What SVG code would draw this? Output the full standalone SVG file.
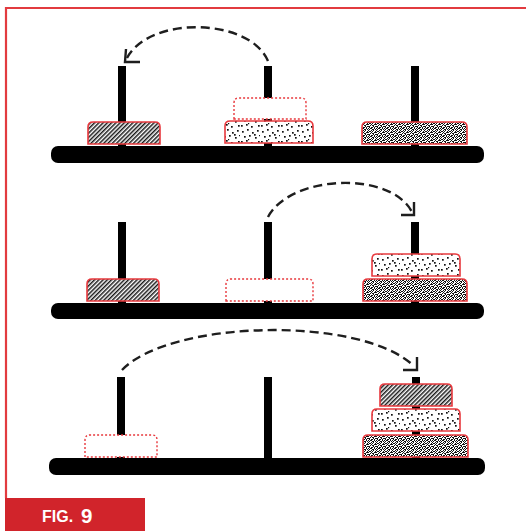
<svg xmlns="http://www.w3.org/2000/svg" width="526" height="531" viewBox="0 0 526 531">
<style>
.base{fill:#000}
.peg{fill:#000}
.disc{stroke:#e8383d;stroke-width:1.6}
.ghost{fill:#fff;stroke:#e8383d;stroke-width:1.4;stroke-dasharray:2 2}
.arc{fill:none;stroke:#1e1e1e;stroke-width:2.4;stroke-dasharray:9 5}
.head{fill:none;stroke:#1e1e1e;stroke-width:2.4}
.frame{fill:none;stroke:#e23b3f;stroke-width:2.2}
.figtext{font-family:"Liberation Sans",Arial,sans-serif;font-weight:bold;fill:#fff}
</style>
<defs>
<pattern id="hatch" width="3" height="3" patternUnits="userSpaceOnUse" patternTransform="rotate(45)">
<rect width="3" height="3" fill="#fff"/>
<line x1="0.75" y1="0" x2="0.75" y2="3" stroke="#1a1a1a" stroke-width="1.5"/>
</pattern>
<pattern id="dots" width="20" height="16" patternUnits="userSpaceOnUse">
<rect width="20" height="16" fill="#fff"/>
<g fill="#111">
<rect x="2" y="3" width="1.7" height="1.7"/><rect x="7" y="1" width="1.7" height="1.7"/>
<rect x="12" y="4" width="1.7" height="1.7"/><rect x="17" y="2" width="1.7" height="1.7"/>
<rect x="4" y="8" width="1.7" height="1.7"/><rect x="9" y="7" width="1.7" height="1.7"/>
<rect x="15" y="9" width="1.7" height="1.7"/><rect x="1" y="13" width="1.7" height="1.7"/>
<rect x="6" y="12" width="1.7" height="1.7"/><rect x="11" y="14" width="1.7" height="1.7"/>
<rect x="18" y="13" width="1.7" height="1.7"/><rect x="14" y="6" width="1.7" height="1.7"/>
<rect x="19" y="7" width="1.2" height="1.2"/><rect x="8" y="11" width="1.2" height="1.2"/>
</g>
</pattern>
<pattern id="dense" width="8" height="8" patternUnits="userSpaceOnUse">
<rect width="8" height="8" fill="#fff"/>
<path fill="#111" d="M0 0h1v1h-1z M2 0h2v1h-2z M6 0h1v1h-1z M1 1h1v1h-1z M4 1h2v1h-2z M7 1h1v1h-1z M0 2h1v1h-1z M3 2h1v1h-1z M5 2h1v1h-1z M1 3h2v1h-2z M4 3h1v1h-1z M7 3h1v1h-1z M0 4h1v1h-1z M3 4h1v1h-1z M6 4h2v1h-2z M2 5h1v1h-1z M4 5h2v1h-2z M0 6h2v1h-2z M5 6h1v1h-1z M7 6h1v1h-1z M1 7h1v1h-1z M3 7h2v1h-2z M6 7h1v1h-1z"/>
</pattern>
</defs>
<rect width="526" height="531" fill="#fff"/>
<path class="frame" d="M6 498 V8 H526"/>

<g id="row1">
<g id="r1-pegs"><rect class="peg" x="118" y="66" width="8" height="81"/><rect class="peg" x="264" y="66" width="8" height="81"/><rect class="peg" x="411" y="66" width="8" height="81"/></g>
<rect id="r1-base" class="base" x="51" y="146" width="433" height="17" rx="7"/>
<path id="r1-disc-hatch" class="disc" fill="url(#hatch)" d="M88 144 V127 Q88 122 93 122 H155 Q160 122 160 127 V144 Z"/>
<path id="r1-disc-dots" class="disc" fill="url(#dots)" d="M225 143 V126 Q225 121 230 121 H308 Q313 121 313 126 V143 Z"/>
<path id="r1-ghost" class="ghost" d="M234 119 V103 Q234 98 239 98 H301 Q306 98 306 103 V119 Z"/>
<path id="r1-disc-dense" class="disc" fill="url(#dense)" d="M362 144 V127 Q362 122 367 122 H462 Q467 122 467 127 V144 Z"/>
</g>

<g id="row2">
<g id="r2-pegs"><rect class="peg" x="118" y="222" width="8" height="82"/><rect class="peg" x="264" y="222" width="8" height="82"/><rect class="peg" x="411" y="222" width="8" height="82"/></g>
<rect id="r2-base" class="base" x="51" y="303" width="433" height="16" rx="7"/>
<path id="r2-disc-hatch" class="disc" fill="url(#hatch)" d="M87 301 V284 Q87 279 92 279 H154 Q159 279 159 284 V301 Z"/>
<path id="r2-ghost" class="ghost" d="M226 301 V284 Q226 279 231 279 H308 Q313 279 313 284 V301 Z"/>
<path id="r2-disc-dense" class="disc" fill="url(#dense)" d="M363 301 V284 Q363 279 368 279 H462 Q467 279 467 284 V301 Z"/>
<path id="r2-disc-dots" class="disc" fill="url(#dots)" d="M372 276 V259 Q372 254 377 254 H455 Q460 254 460 259 V276 Z"/>
</g>

<g id="row3">
<g id="r3-pegs"><rect class="peg" x="117" y="377" width="8" height="82"/><rect class="peg" x="264" y="377" width="8" height="82"/><rect class="peg" x="412" y="377" width="8" height="82"/></g>
<rect id="r3-base" class="base" x="49" y="458" width="436" height="17" rx="7"/>
<path id="r3-ghost" class="ghost" d="M85 457 V440 Q85 435 90 435 H152 Q157 435 157 440 V457 Z"/>
<path id="r3-disc-dense" class="disc" fill="url(#dense)" d="M363 457 V440 Q363 435 368 435 H463 Q468 435 468 440 V457 Z"/>
<path id="r3-disc-dots" class="disc" fill="url(#dots)" d="M372 431 V414 Q372 409 377 409 H455 Q460 409 460 414 V431 Z"/>
<path id="r3-disc-hatch" class="disc" fill="url(#hatch)" d="M380 406 V389 Q380 384 385 384 H447 Q452 384 452 389 V406 Z"/>
</g>

<g id="connectors">
<path class="arc" d="M268 61 C 250 18 150 15 127 58"/>
<polyline class="head" points="126,49 125,62 140,62"/>
<path class="arc" d="M268 217 C 290 175 390 170 412 212"/>
<polyline class="head" points="414,202 414,215 401,215"/>
<path class="arc" d="M122 370 C 170 320 360 315 414 366"/>
<polyline class="head" points="417,357 417,370 403,370"/>
</g>

<g id="fig-label">
<rect x="5" y="498" width="140" height="33" fill="#d1242b"/>
<text class="figtext" x="42" y="522" font-size="16">FIG.</text>
<text class="figtext" x="81" y="522.5" font-size="20.5">9</text>
</g>
</svg>
